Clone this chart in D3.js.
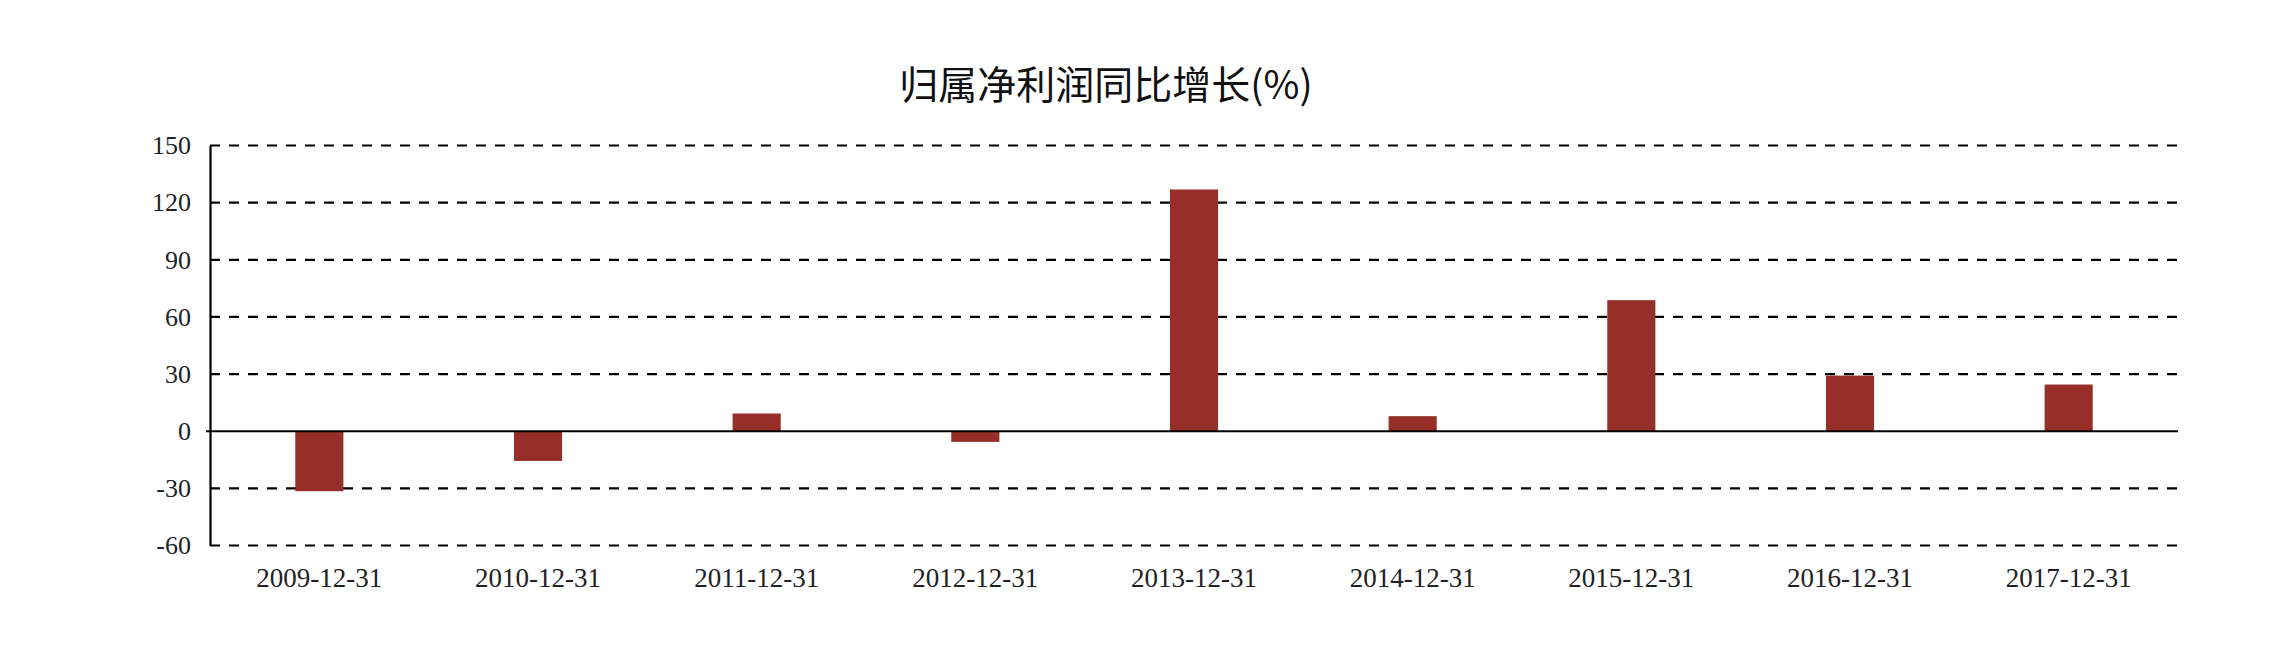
<!DOCTYPE html>
<html>
<head>
<meta charset="utf-8">
<script src="https://cdn.jsdelivr.net/npm/d3@7"></script>
<style>
html,body{margin:0;padding:0;background:#fff;}
svg{display:block;}
</style>
</head>
<body>
<svg id="chart" width="2280" height="650"></svg>
<script>
const title = "归属净利润同比增长(%)";
const categories = ["2009-12-31","2010-12-31","2011-12-31","2012-12-31","2013-12-31","2014-12-31","2015-12-31","2016-12-31","2017-12-31"];
const values = [-31.5, -15.6, 9.3, -5.6, 126.9, 7.9, 68.8, 29.2, 24.5];
const yTicks = [-60, -30, 0, 30, 60, 90, 120, 150];

const svg = d3.select("#chart");
const plotLeft = 210, plotRight = 2178, plotTop = 145.5, plotBottom = 545.5;

const x = d3.scaleBand().domain(categories).range([plotLeft, plotRight]).padding(0);
const y = d3.scaleLinear().domain([-60, 150]).range([plotBottom, plotTop]);

svg.append("text")
  .attr("x", 1106).attr("y", 99)
  .attr("text-anchor", "middle")
  .attr("font-family", "'Noto Sans CJK SC', sans-serif")
  .attr("font-size", 39)
  .attr("fill", "#111")
  .text(title);

// gridlines
svg.append("g").selectAll("line")
  .data(yTicks.filter(d => d !== 0))
  .join("line")
  .attr("x1", plotLeft).attr("x2", plotRight)
  .attr("y1", d => y(d)).attr("y2", d => y(d))
  .attr("stroke", "#000").attr("stroke-width", 2.2)
  .attr("stroke-dasharray", "10,9");

// bars
const bw = x.bandwidth() * 0.22;
svg.append("g").selectAll("rect")
  .data(values)
  .join("rect")
  .attr("x", (d, i) => x(categories[i]) + x.bandwidth() / 2 - bw / 2)
  .attr("width", bw)
  .attr("y", d => y(Math.max(0, d)))
  .attr("height", d => Math.abs(y(d) - y(0)))
  .attr("fill", "#962F27");

// zero line
svg.append("line")
  .attr("x1", plotLeft - 4).attr("x2", plotRight)
  .attr("y1", y(0)).attr("y2", y(0))
  .attr("stroke", "#000").attr("stroke-width", 2);

// y axis
const yAxis = d3.axisLeft(y).tickValues(yTicks).tickFormat(d => String(d)).tickSize(0).tickPadding(19);
const gy = svg.append("g").attr("transform", `translate(${plotLeft},0)`).call(yAxis);
gy.select(".domain").attr("stroke", "#000").attr("stroke-width", 2.2);
gy.selectAll("text")
  .attr("font-family", "'Liberation Serif', serif")
  .attr("font-size", 26)
  .attr("fill", "#222");

// x axis labels
const xAxis = d3.axisBottom(x).tickSize(0).tickPadding(22);
const gx = svg.append("g").attr("transform", `translate(0,${plotBottom})`).call(xAxis);
gx.select(".domain").remove();
gx.selectAll("text")
  .attr("font-family", "'Liberation Serif', serif")
  .attr("font-size", 27)
  .attr("fill", "#222");
</script>
</body>
</html>
